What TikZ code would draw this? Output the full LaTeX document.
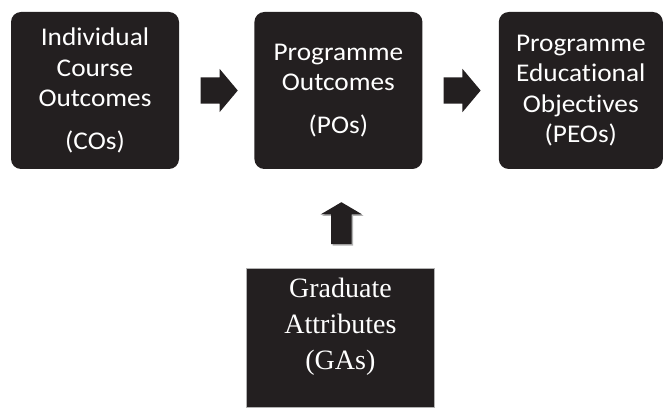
\documentclass[tikz,border=0pt]{standalone}
\usepackage{fontspec}
\setmainfont{Liberation Serif}
\newfontfamily\calibri[FakeStretch=1.07, RawFeature=-liga]{Carlito}
\usetikzlibrary{positioning, shapes.arrows, shadows, calc}
\definecolor{boxfill}{RGB}{35,31,32}

\begin{document}
\begin{tikzpicture}[
    x=1pt, y=1pt,
    outcome/.style={rectangle, fill=boxfill, rounded corners=10pt, text=white, align=center, minimum width=168pt, minimum height=157pt, inner sep=0pt, font=\calibri\fontsize{25.5}{30.5}\selectfont},
    attribute/.style={rectangle, fill=boxfill, draw=gray!60, line width=0.8pt, minimum width=188pt, minimum height=139pt, inner sep=0pt},
    flow/.style={single arrow, fill=boxfill, inner xsep=0pt, inner ysep=13pt, minimum height=37pt, single arrow head extend=8.5pt, single arrow tip angle=100}
]
\path[use as bounding box] (0,0) rectangle (663,-414);

% 1. Outcome chain (top row)
\node[outcome] (co) at (95,-90.5) {Individual\\Course\\Outcomes\\[12pt](COs)};
\node[outcome, right=75pt of co] (po) {Programme\\Outcomes\\[12pt](POs)};
\node[outcome, right=76pt of po, minimum width=164pt] (peo) {Programme\\Educational\\Objectives\\(PEOs)};

% 2. Graduate attributes (below POs)
\node[attribute, below=99pt of po, xshift=2pt,
      label={[yshift=11pt, text=white, align=center, font=\fontsize{28}{36}\selectfont]center:Graduate\\Attributes\\(GAs)}] (ga) {};

% Block arrows
\node[flow, xshift=-3pt] (co2po) at ($(co.east)!0.5!(po.west)$) {};
\node[flow, xshift=-4pt] (po2peo) at ($(po.east)!0.5!(peo.west)$) {};
\node[flow, rotate=90, minimum height=42pt, inner ysep=10pt, single arrow head extend=10.5pt, single arrow tip angle=119,
      drop shadow={shadow xshift=1.5pt, shadow yshift=-1.5pt, fill=gray!60, opacity=1}]
      (ga2po) at ($(po.south)!0.5!(ga.north)+(2,-7.5)$) {};

\end{tikzpicture}
\end{document}
